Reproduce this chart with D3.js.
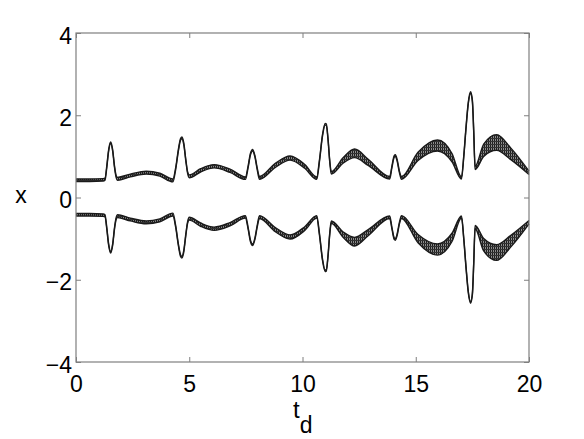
<!DOCTYPE html>
<html>
<head>
<meta charset="utf-8">
<script src="https://cdn.jsdelivr.net/npm/d3@7"></script>
<style>
  body { margin: 0; background: #fff; }
  svg { display: block; font-family: "Liberation Sans", Arial, Helvetica, sans-serif; }
</style>
</head>
<body>
<div id="chart"></div>
<script>
const width = 584;
const height = 439;
const margin = { top: 33, right: 55, bottom: 77, left: 76 };

// sample times t_d
const tVals = [0, 0.6, 1.2, 1.28, 1.36, 1.44, 1.53, 1.62, 1.70, 1.78, 1.83, 2.4,
  3.1, 3.7, 4.28, 4.40, 4.52, 4.62, 4.68, 4.76, 4.85, 4.93, 5.0, 5.5,
  6.1, 6.8, 7.48, 7.60, 7.70, 7.80, 7.90, 8.00, 8.10, 8.8, 9.45, 10.1,
  10.63, 10.75, 10.88, 11.00, 11.05, 11.13, 11.20, 11.27, 11.8, 12.3, 12.9, 13.85,
  13.95, 14.05, 14.10, 14.18, 14.28, 14.37, 15.1, 15.96, 16.6, 17.02, 17.12, 17.22,
  17.32, 17.42, 17.50, 17.56, 17.62, 18.0, 18.57, 19.2, 20.0];

// upper branch: lower and upper edge of the band
const upLow = [0.39, 0.39, 0.40, 0.42, 0.73, 1.12, 1.31, 1.12, 0.73, 0.47, 0.42, 0.50,
  0.57, 0.52, 0.38, 0.68, 1.13, 1.40, 1.43, 1.28, 0.88, 0.58, 0.48, 0.62,
  0.72, 0.61, 0.44, 0.73, 1.03, 1.13, 0.98, 0.68, 0.44, 0.73, 0.91, 0.71,
  0.44, 0.88, 1.48, 1.76, 1.75, 1.38, 0.88, 0.57, 0.84, 0.97, 0.78, 0.45,
  0.73, 0.98, 1.00, 0.88, 0.60, 0.44, 0.90, 1.13, 0.87, 0.45, 0.98, 1.68,
  2.28, 2.53, 2.33, 1.58, 0.68, 1.00, 1.15, 0.92, 0.56];
const upHigh = [0.45, 0.45, 0.46, 0.47, 0.77, 1.16, 1.35, 1.16, 0.77, 0.52, 0.49, 0.57,
  0.64, 0.59, 0.45, 0.72, 1.17, 1.44, 1.47, 1.32, 0.92, 0.62, 0.55, 0.70,
  0.80, 0.69, 0.50, 0.77, 1.07, 1.17, 1.02, 0.72, 0.51, 0.83, 1.01, 0.80,
  0.50, 0.92, 1.52, 1.80, 1.79, 1.42, 0.92, 0.63, 0.97, 1.18, 0.93, 0.51,
  0.77, 1.02, 1.04, 0.92, 0.64, 0.51, 1.10, 1.40, 1.07, 0.50, 1.02, 1.72,
  2.32, 2.57, 2.37, 1.62, 0.76, 1.30, 1.53, 1.20, 0.64];

// lower branch: top and bottom edge of the band
const loHigh = [-0.39, -0.39, -0.40, -0.42, -0.73, -1.12, -1.31, -1.12, -0.73, -0.47, -0.42, -0.50,
  -0.57, -0.52, -0.38, -0.68, -1.13, -1.40, -1.43, -1.28, -0.88, -0.58, -0.48, -0.62,
  -0.72, -0.61, -0.44, -0.73, -1.03, -1.13, -0.98, -0.68, -0.44, -0.73, -0.91, -0.71,
  -0.44, -0.88, -1.48, -1.76, -1.75, -1.38, -0.88, -0.57, -0.84, -0.97, -0.78, -0.45,
  -0.73, -0.98, -1.00, -0.88, -0.60, -0.44, -0.90, -1.13, -0.87, -0.45, -0.98, -1.68,
  -2.28, -2.53, -2.33, -1.58, -0.68, -1.00, -1.15, -0.92, -0.56];
const loLow = [-0.45, -0.45, -0.46, -0.47, -0.77, -1.16, -1.35, -1.16, -0.77, -0.52, -0.49, -0.57,
  -0.64, -0.59, -0.45, -0.72, -1.17, -1.44, -1.47, -1.32, -0.92, -0.62, -0.55, -0.70,
  -0.80, -0.69, -0.50, -0.77, -1.07, -1.17, -1.02, -0.72, -0.51, -0.83, -1.01, -0.80,
  -0.50, -0.92, -1.52, -1.80, -1.79, -1.42, -0.92, -0.63, -0.97, -1.18, -0.93, -0.51,
  -0.77, -1.02, -1.04, -0.92, -0.64, -0.51, -1.10, -1.40, -1.07, -0.50, -1.02, -1.72,
  -2.32, -2.57, -2.37, -1.62, -0.76, -1.30, -1.53, -1.20, -0.64];

const xTicks = [0, 5, 10, 15, 20];
const yTicks = [-4, -2, 0, 2, 4];

const svg = d3.select("#chart")
  .append("svg")
  .attr("width", width)
  .attr("height", height);

const x = d3.scaleLinear()
  .domain([0, 20])
  .range([margin.left, width - margin.right]);

const y = d3.scaleLinear()
  .domain([-4, 4])
  .range([height - margin.bottom, margin.top]);

// dense hatch for the wide parts of the bands
const hatch = svg.append("defs").append("pattern")
  .attr("id", "hatch")
  .attr("patternUnits", "userSpaceOnUse")
  .attr("width", 2)
  .attr("height", 3);
hatch.append("rect").attr("width", 2).attr("height", 3).attr("fill", "#8a8a8a");
hatch.append("rect").attr("width", 1).attr("height", 3).attr("fill", "#1e1e1e");
hatch.append("rect").attr("width", 2).attr("height", 1).attr("fill", "#333");

const branches = [
  { low: upLow, high: upHigh },
  { low: loLow, high: loHigh }
].map(b => tVals.map((t, i) => ({ t, low: b.low[i], high: b.high[i] })));

const area = d3.area()
  .curve(d3.curveMonotoneX)
  .x(d => x(d.t))
  .y0(d => y(d.low))
  .y1(d => y(d.high));

const lowLine = d3.line().curve(d3.curveMonotoneX).x(d => x(d.t)).y(d => y(d.low));
const highLine = d3.line().curve(d3.curveMonotoneX).x(d => x(d.t)).y(d => y(d.high));

svg.selectAll(".band")
  .data(branches)
  .join("path")
  .attr("class", "band")
  .attr("fill", "url(#hatch)")
  .attr("d", area);

svg.selectAll(".edge-low")
  .data(branches)
  .join("path")
  .attr("class", "edge-low")
  .attr("fill", "none")
  .attr("stroke", "#1a1a1a")
  .attr("stroke-width", 1.4)
  .attr("d", lowLine);

svg.selectAll(".edge-high")
  .data(branches)
  .join("path")
  .attr("class", "edge-high")
  .attr("fill", "none")
  .attr("stroke", "#1a1a1a")
  .attr("stroke-width", 1.4)
  .attr("d", highLine);

// axes box
svg.append("rect")
  .attr("x", x(0))
  .attr("y", y(4))
  .attr("width", x(20) - x(0))
  .attr("height", y(-4) - y(4))
  .attr("fill", "none")
  .attr("stroke", "#7f7f7f")
  .attr("stroke-width", 1.2);

const axisColor = "#7f7f7f";

function styleAxis(g) {
  g.select(".domain").remove();
  g.selectAll(".tick line").attr("stroke", axisColor);
  g.selectAll(".tick text")
    .attr("fill", "#000")
    .style("font-size", "23px")
    .attr("font-family", null);
}

svg.append("g")
  .attr("transform", `translate(0, ${y(-4)})`)
  .call(d3.axisBottom(x).tickValues(xTicks).tickSize(-5).tickFormat(d3.format("d")))
  .call(styleAxis)
  .call(g => g.selectAll(".tick text").attr("y", 30).attr("dy", null));

svg.append("g")
  .attr("transform", `translate(0, ${y(4)})`)
  .call(d3.axisTop(x).tickValues(xTicks).tickSize(-5).tickFormat(""))
  .call(styleAxis);

svg.append("g")
  .attr("transform", `translate(${x(0)}, 0)`)
  .call(d3.axisLeft(y).tickValues(yTicks).tickSize(-5))
  .call(styleAxis)
  .call(g => g.selectAll(".tick text").attr("x", -4).attr("dy", null).attr("y", 10));

svg.append("g")
  .attr("transform", `translate(${x(20)}, 0)`)
  .call(d3.axisRight(y).tickValues(yTicks).tickSize(-5).tickFormat(""))
  .call(styleAxis);

// axis titles
svg.append("text")
  .attr("x", 21)
  .attr("y", 203)
  .attr("text-anchor", "middle")
  .style("font-size", "23px")
  .text("x");

const xTitle = svg.append("text")
  .attr("x", 293)
  .attr("y", 418)
  .style("font-size", "24px")
  .text("t");
xTitle.append("tspan")
  .attr("dy", 14.5)
  .style("font-size", "23px")
  .text("d");
</script>
</body>
</html>
